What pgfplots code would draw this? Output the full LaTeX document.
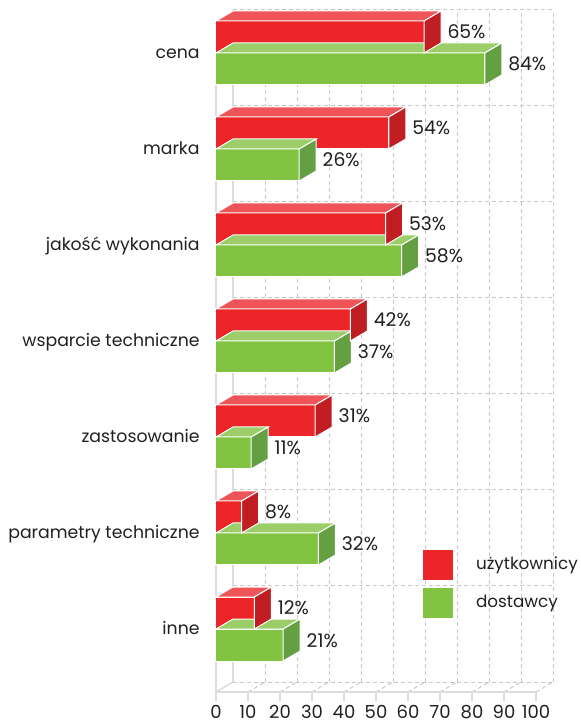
\documentclass[border=0pt]{standalone}
\usepackage{pgfplots}
\pgfplotsset{compat=1.18}
\usepackage{pgfplotstable}
\usepackage{fontspec}
\setmainfont{Poppins}
\definecolor{rfront}{HTML}{EC2628}
\definecolor{rtop}{HTML}{EF5558}
\definecolor{rside}{HTML}{C11E24}
\definecolor{gfront}{HTML}{82C341}
\definecolor{gtop}{HTML}{9BCD69}
\definecolor{gside}{HTML}{64A041}
\definecolor{gridgray}{HTML}{C8C8C8}
\definecolor{axisgray}{HTML}{DCDCDC}
\definecolor{txt}{HTML}{231F20}
\newcommand\lab{\fontsize{8.65pt}{10pt}\selectfont}
\newcommand\leg{\fontsize{8.4pt}{10pt}\selectfont}
\newcommand\num{\fontsize{9pt}{11pt}\selectfont}
\newcommand\pct{\fontsize{9.4pt}{11pt}\selectfont}
\newdimen\barL \newdimen\barM
\newcommand\boxfaces[2]{%
  \barL=\myval pt \barL=1.6\barL
  \barM=-\barL \advance\barM by 8.5pt
  \pgfsetlinewidth{0.5pt}%
  \pgfsetstrokecolor{white}%
  \pgfpathmoveto{\pgfqpoint{-\barL}{8pt}}%
  \pgfpathlineto{\pgfqpoint{0pt}{8pt}}%
  \pgfpathlineto{\pgfqpoint{8.5pt}{13pt}}%
  \pgfpathlineto{\pgfqpoint{\barM}{13pt}}%
  \pgfpathclose
  \pgfsetfillcolor{#1}%
  \pgfusepath{fill,stroke}%
  \pgfpathmoveto{\pgfqpoint{0pt}{-8pt}}%
  \pgfpathlineto{\pgfqpoint{8.5pt}{-3pt}}%
  \pgfpathlineto{\pgfqpoint{8.5pt}{13pt}}%
  \pgfpathlineto{\pgfqpoint{0pt}{8pt}}%
  \pgfpathclose
  \pgfsetfillcolor{#2}%
  \pgfusepath{fill,stroke}%
}
\pgfdeclareplotmark{boxr}{\boxfaces{rtop}{rside}}
\pgfdeclareplotmark{boxg}{\boxfaces{gtop}{gside}}

% value, vertical position of the bar centre
\pgfplotstableread{
val pos
65 655
54 559
53 463
42 367
31 271
8 175
12 79
}\redtab
\pgfplotstableread{
val pos
84 623
26 527
58 431
37 335
11 239
32 143
21 47
}\greentab

\begin{document}
\begin{tikzpicture}[text=txt]
% back wall
\begin{axis}[
  at={(8.5pt,5pt)}, anchor=south west,
  x=1.6pt, y=0.5pt, xmin=0, xmax=100, ymin=0, ymax=672,
  xtick={0,10,...,100}, ytick={0,96,...,672},
  xticklabels={}, yticklabels={}, major tick length=0pt,
  grid=major,
  major grid style={dash pattern=on 2pt off 1.5pt, gridgray, line width=0.5pt},
  axis line style={draw=none}, clip=false]
\draw[axisgray, line width=0.75pt] (axis cs:0,0) -- (axis cs:0,672);
\end{axis}
% front
\begin{axis}[
  at={(0pt,0pt)}, anchor=south west,
  x=1.6pt, y=0.5pt, xmin=0, xmax=100, ymin=0, ymax=672,
  clip=false, axis line style={draw=none},
  xtick={0,10,...,100}, xtick pos=lower, tick align=outside,
  major tick length=4.5pt,
  xtick style={axisgray, line width=0.75pt},
  ytick={63,159,255,351,447,543,639}, ytick pos=left,
  ytick style={draw=none},
  yticklabels={inne, parametry techniczne, zastosowanie, wsparcie techniczne, jakość wykonania, marka, cena},
  yticklabel style={font=\lab, anchor=base east, inner sep=0pt, xshift=-3.5pt, yshift=-2.7pt},
  xticklabel style={font=\num, anchor=base, inner sep=0pt, yshift=-8.5pt},
  /pgf/number format/assume math mode=true,
  legend cell align=left,
  legend style={at={(axis cs:64.7,142)}, anchor=north west, draw=none, fill=none,
    inner sep=0pt, outer sep=0pt, row sep=4pt, font=\leg, text=txt,
    nodes={inner sep=0pt}},
  ]
\pgfplotsinvokeforeach{10,20,30,40,50,60,70,80,90,100}{
  \draw[dash pattern=on 2pt off 1.5pt, gridgray, line width=0.5pt] (axis cs:#1,0) -- ++(8.5pt,5pt);
}
\draw[axisgray, line width=0.75pt] (axis cs:0,0) -- ++(8.5pt,5pt);
\draw[axisgray, line width=1pt] (axis cs:0,672) -- (axis cs:0,0) -- (axis cs:100,0);

\addplot[xbar, bar width=16pt, bar shift=0pt, fill=gfront, draw=white, line width=0.5pt,
  point meta=x, nodes near coords={\pgfmathprintnumber{\pgfplotspointmeta}\%},
  every node near coord/.append style={font=\pct, text=txt, anchor=base west, inner sep=0pt, xshift=11.5pt, yshift=-1pt},
  forget plot] table[x=val, y=pos]{\greentab};
\addplot[only marks, mark=boxg, scatter,
  scatter/@pre marker code/.code={}, scatter/@post marker code/.code={},
  visualization depends on={rawx \as \myval}, forget plot] table[x=val, y=pos]{\greentab};
\addplot[xbar, bar width=16pt, bar shift=0pt, fill=rfront, draw=white, line width=0.5pt,
  point meta=x, nodes near coords={\pgfmathprintnumber{\pgfplotspointmeta}\%},
  every node near coord/.append style={font=\pct, text=txt, anchor=base west, inner sep=0pt, xshift=11.5pt, yshift=-1pt},
  forget plot] table[x=val, y=pos]{\redtab};
\addplot[only marks, mark=boxr, scatter,
  scatter/@pre marker code/.code={}, scatter/@post marker code/.code={},
  visualization depends on={rawx \as \myval}, forget plot] table[x=val, y=pos]{\redtab};

\addlegendimage{legend image code/.code={\fill[rfront, draw=none] (0pt,-7.5pt) rectangle (15pt,7.5pt); \path[draw=none, fill=none] (0pt,0pt) -- (26.5pt,0pt);}}
\addlegendentry{użytkownicy}
\addlegendimage{legend image code/.code={\fill[gfront, draw=none] (0pt,-7.5pt) rectangle (15pt,7.5pt); \path[draw=none, fill=none] (0pt,0pt) -- (26.5pt,0pt);}}
\addlegendentry{dostawcy}
\coordinate (O) at (axis cs:0,0);
\end{axis}
\path ([shift={(-108pt,346pt)}]O) rectangle ([shift={(182pt,-15pt)}]O);
\end{tikzpicture}
\end{document}
